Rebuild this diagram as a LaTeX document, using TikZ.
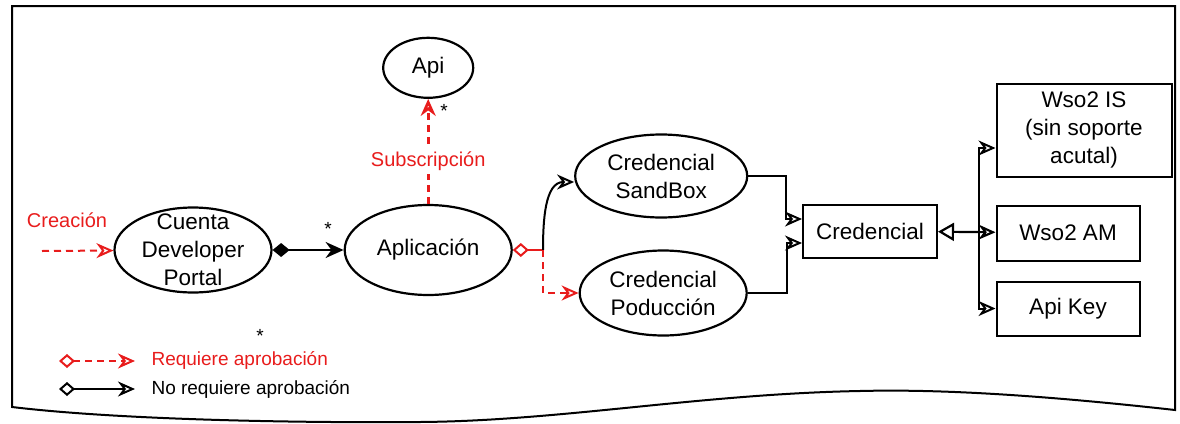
\documentclass[tikz,border=0pt]{standalone}
\usepackage{fontspec}
\setmainfont{Liberation Sans}
\usetikzlibrary{shapes.geometric,arrows.meta,positioning,calc}
\definecolor{reqred}{RGB}{232,28,28}
\tikzset{
  usecase/.style={ellipse,draw,line width=2.2pt,inner sep=-20pt,align=center,
    font=\fontsize{22.5}{28}\selectfont},
  entity/.style={draw,line width=2pt,inner sep=4pt,align=center,
    font=\fontsize{22.5}{28}\selectfont},
  flow/.style={-{Stealth[open,length=17pt,width=15pt]},line width=2pt},
  approval/.style={flow,reqred,dash pattern=on 7pt off 5pt},
  redlabel/.style={text=reqred,font=\fontsize{20}{24}\selectfont},
  legendtext/.style={anchor=west,font=\fontsize{19}{23}\selectfont},
  mult/.style={inner sep=0pt,font=\fontsize{19}{22}\selectfont}
}
\begin{document}
\begin{tikzpicture}[x=1pt,y=-1pt,node distance=24pt]
  \useasboundingbox (0,0) rectangle (1180,423);
  % sheet outline
  \draw[line width=2pt] (12,6) -- (1175,6) -- (1175,410)
    .. controls (1040,395) and (940,389) .. (860,391)
    .. controls (700,394) and (560,421) .. (420,422)
    .. controls (300,423) and (120,420) .. (12,407) -- cycle;

  \node[usecase,minimum width=157pt,minimum height=85pt] (cuenta) at (193,250) {Cuenta\\Developer\\Portal};
  \node[usecase,minimum width=167pt,minimum height=90pt,right=71pt of cuenta] (apl) {Aplicación};
  \node[usecase,minimum width=90pt,minimum height=60pt,above=105pt of apl] (api) {Api};
  \node[usecase,minimum width=172pt,minimum height=83pt] (sandbox) at ($(apl.center)+(233,-74)$)
    {Credencial\\SandBox};
  \node[usecase,minimum width=167pt,minimum height=85pt] (prod) at ($(apl.center)+(235,43)$)
    {Credencial\\Poducción};
  \node[entity,minimum width=134pt,minimum height=53pt] (cred) at (870,231) {Credencial};
  \node[entity,minimum width=175pt,minimum height=93pt] (wis) at (1084,130)
    {Wso2 IS\\(sin soporte\\acutal)};
  \node[entity,minimum width=143pt,minimum height=55pt,below=27pt of wis.south west,anchor=north west] (wam) {Wso2 AM};
  \node[entity,minimum width=143pt,minimum height=54pt,below=19pt of wam] (apikey) {Api Key};

  \node[redlabel] (creacion) at (67,220) {Creación};
  \coordinate (inicio) at (42,251);
  \coordinate (fork) at (543,250);
  \coordinate (split) at ($(cred.east)+(41,0)$);

  \draw[approval] (inicio) -- (cuenta);
  \draw[line width=2pt,{Diamond[length=17pt,width=14pt]}-{Stealth[length=18pt,width=16pt]}] (cuenta) -- (apl);
  \node[mult] (m1) at (328,229) {*};
  \draw[approval,line width=2.6pt] (apl) -- node[redlabel,fill=white,pos=0.41] (subs) {Subscripción} (api);
  \node[mult] (m2) at (444,111) {*};
  \draw[reqred,line width=2pt,{Diamond[open,length=16pt,width=14pt]}-] (apl.east) -- (fork);
  \draw[flow] (fork) to[out=90,in=180] ($(sandbox.west)+(0,6)$);
  \draw[approval] (fork) |- (prod.west);
  \draw[flow] (sandbox.east) -- ++(38,0) |- ($(cred.west)+(0,-12)$);
  \draw[flow] (prod.east) -- ++(39,0) |- ($(cred.west)+(0,12)$);
  \draw[line width=2.2pt,{Triangle[open,length=16pt,width=18pt]}-{Stealth[open,length=17pt,width=15pt]}] (cred) -- (wam);
  \draw[flow] (split) |- ($(wis.west)+(0,18)$);
  \draw[flow] (split) |- (apikey.west);

  % legend
  \node[mult] (m3) at (260,336) {*};
  \coordinate (req a) at (59,361);
  \coordinate (req b) at (135,361);
  \coordinate (noreq a) at (59,389);
  \coordinate (noreq b) at (135,389);
  \draw[approval,{Diamond[open,length=16pt,width=14pt]}-{Stealth[open,length=17pt,width=15pt]}] (req a) -- (req b);
  \draw[flow,{Diamond[open,length=16pt,width=14pt]}-{Stealth[open,length=17pt,width=15pt]}] (noreq a) -- (noreq b);
  \node[legendtext,text=reqred] (req) at (148,360) {Requiere aprobación};
  \node[legendtext] (noreq) at (148,389) {No requiere aprobación};
\end{tikzpicture}
\end{document}
